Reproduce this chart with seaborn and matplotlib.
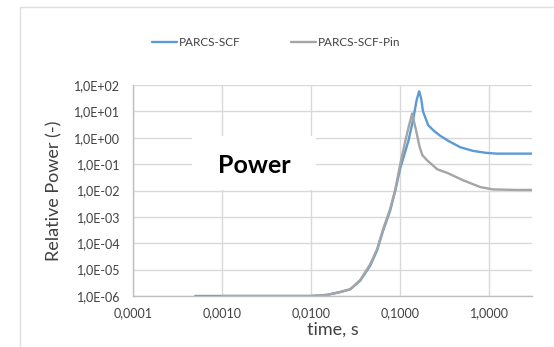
import numpy as np
import pandas as pd
import seaborn as sns
import matplotlib.pyplot as plt
from matplotlib.lines import Line2D
from matplotlib.patches import Rectangle
from matplotlib.ticker import FixedLocator, FuncFormatter, NullLocator

# PARCS-SCF (blue)
scf_time = [0.0005, 0.001, 0.005, 0.01, 0.015, 0.021, 0.0275, 0.0355, 0.046, 0.055,
            0.064, 0.077, 0.088, 0.1, 0.112, 0.124, 0.141, 0.152, 0.163, 0.172,
            0.18, 0.206, 0.24, 0.28, 0.35, 0.47, 0.65, 0.9, 1.2, 2.0, 3.0]
scf_power = [1e-6, 1e-6, 1e-6, 1e-6, 1.1e-6, 1.4e-6, 1.8e-6, 3.8e-6, 1.4e-5, 5.4e-5,
             2.9e-4, 1.7e-3, 1e-2, 7e-2, 0.25, 0.8, 5.8, 25, 58, 30,
             10, 3.0, 1.8, 1.2, 0.75, 0.44, 0.32, 0.27, 0.25, 0.25, 0.25]

# PARCS-SCF-Pin (gray)
pin_time = [0.001, 0.005, 0.01, 0.015, 0.021, 0.0275, 0.0355, 0.046, 0.055, 0.064,
            0.077, 0.088, 0.1, 0.114, 0.125, 0.136, 0.15, 0.165, 0.177, 0.2,
            0.26, 0.34, 0.5, 0.79, 1.1, 2.0, 3.0]
pin_power = [1e-6, 1e-6, 1e-6, 1.1e-6, 1.4e-6, 1.8e-6, 4e-6, 1.6e-5, 6e-5, 3.3e-4,
             2e-3, 1.1e-2, 0.1, 0.75, 2.8, 8.3, 2.0, 0.45, 0.22, 0.14,
             0.064, 0.046, 0.025, 0.0135, 0.011, 0.0105, 0.0105]

series_names = ["PARCS-SCF", "PARCS-SCF-Pin"]
colors = ["#5B9BD5", "#A5A5A5"]

x_ticks = [0.0001, 0.001, 0.01, 0.1, 1.0]
x_labels = ["0,0001", "0,0010", "0,0100", "0,1000", "1,0000"]
y_ticks = [1e-6, 1e-5, 1e-4, 1e-3, 1e-2, 1e-1, 1e0, 1e1, 1e2]
y_labels = ["1,0E-06", "1,0E-05", "1,0E-04", "1,0E-03", "1,0E-02",
            "1,0E-01", "1,0E+00", "1,0E+01", "1,0E+02"]

df = pd.concat([
    pd.DataFrame({"time": scf_time, "power": scf_power, "series": series_names[0]}),
    pd.DataFrame({"time": pin_time, "power": pin_power, "series": series_names[1]}),
])

sns.set_style("white")
plt.rcParams["font.family"] = ["Lato", "DejaVu Sans"]

fig = plt.figure(figsize=(5.54, 3.47), dpi=100)
ax = fig.add_axes([0.240, 0.147, 0.720, 0.608])

sns.lineplot(data=df, x="time", y="power", hue="series", hue_order=series_names,
             palette=colors, linewidth=1.7, estimator=None, sort=False,
             legend=False, ax=ax)

ax.set_xscale("log")
ax.set_yscale("log")
ax.set_xlim(0.0001, 3.0)
ax.set_ylim(1e-6, 1e2)

ax.xaxis.set_major_locator(FixedLocator(x_ticks))
ax.xaxis.set_major_formatter(FuncFormatter(lambda v, p: x_labels[x_ticks.index(v)] if v in x_ticks else ""))
ax.xaxis.set_minor_locator(NullLocator())
ax.yaxis.set_major_locator(FixedLocator(y_ticks))
ax.yaxis.set_major_formatter(FuncFormatter(lambda v, p: y_labels[y_ticks.index(v)] if v in y_ticks else ""))
ax.yaxis.set_minor_locator(NullLocator())

ax.grid(True, color="#d9d9d9", linewidth=1.0)
ax.tick_params(length=0, labelsize=9, colors="#404040")
ax.tick_params(axis="x", pad=8)
ax.tick_params(axis="y", pad=9)
for side in ["top", "right"]:
    ax.spines[side].set_visible(False)
for side in ["left", "bottom"]:
    ax.spines[side].set_color("#bfbfbf")
    ax.spines[side].set_linewidth(1.0)

ax.set_xlabel("time, s", fontsize=13, color="#404040", labelpad=2)
ax.set_ylabel("Relative Power (-)", fontsize=13, color="#404040", labelpad=9)

# white box behind the "Power" label hides the gridlines
ax.add_patch(Rectangle((0.148, 0.502), 0.310, 0.256, transform=ax.transAxes,
                       facecolor="white", edgecolor="none", zorder=4))
ax.text(0.303, 0.62, "Power", transform=ax.transAxes, fontsize=18,
        fontweight="bold", ha="center", va="center", color="black", zorder=5)

handles = [Line2D([], [], color=c, linewidth=1.7) for c in colors]
fig.legend(handles, series_names, loc="center", bbox_to_anchor=(0.499, 0.878),
           ncol=2, frameon=False, fontsize=8.5, handlelength=2.1,
           handletextpad=0.15, columnspacing=4.3, labelcolor="#404040")

# faint chart-area border (top and left edges visible)
fig.add_artist(Line2D([20 / 554, 1], [1 - 7 / 347, 1 - 7 / 347], color="#e0e0e0", linewidth=1))
fig.add_artist(Line2D([20 / 554, 20 / 554], [0, 1 - 7 / 347], color="#e0e0e0", linewidth=1))

fig.savefig("out.png", dpi=100)
